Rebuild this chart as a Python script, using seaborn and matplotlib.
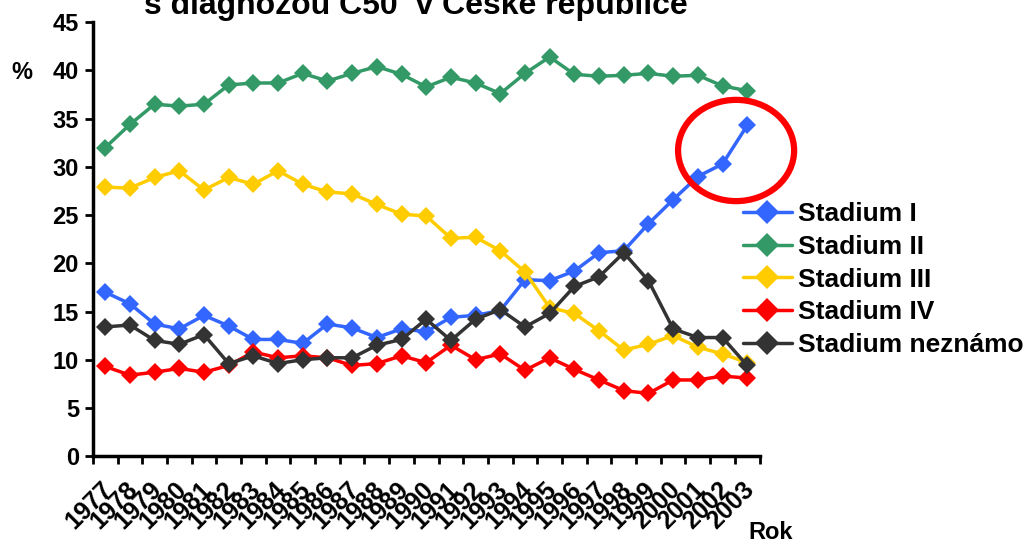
#!/usr/bin/env python3

import numpy as np
import pandas as pd

import matplotlib as mpl
mpl.use('Agg')
import matplotlib.pyplot as plt
from matplotlib.patches import Ellipse
import seaborn as sns

years = [str(y) for y in range(1977, 2004)]

stadium_1 = [17.0, 15.8, 13.7, 13.2, 14.6, 13.5, 12.1, 12.1, 11.7, 13.7, 13.3, 12.3, 13.2, 12.9,
             14.4, 14.6, 15.1, 18.3, 18.2, 19.2, 21.1, 21.3, 24.1, 26.6, 29.0, 30.3, 34.3]
stadium_2 = [32.0, 34.4, 36.5, 36.3, 36.5, 38.5, 38.7, 38.7, 39.7, 38.9, 39.7, 40.4, 39.6, 38.3,
             39.3, 38.7, 37.6, 39.7, 41.4, 39.6, 39.4, 39.5, 39.7, 39.4, 39.5, 38.4, 37.9]
stadium_3 = [27.9, 27.8, 28.9, 29.6, 27.6, 28.9, 28.2, 29.6, 28.2, 27.4, 27.2, 26.1, 25.1, 24.9,
             22.6, 22.7, 21.3, 19.1, 15.4, 14.8, 13.0, 11.0, 11.6, 12.5, 11.3, 10.6, 9.7]
stadium_4 = [9.3, 8.4, 8.7, 9.1, 8.7, 9.4, 10.8, 10.2, 10.4, 10.2, 9.4, 9.6, 10.4, 9.7,
             11.5, 10.0, 10.6, 8.9, 10.2, 9.0, 7.9, 6.8, 6.5, 7.9, 7.9, 8.3, 8.1]
stadium_x = [13.4, 13.6, 12.0, 11.6, 12.6, 9.6, 10.4, 9.6, 10.0, 10.2, 10.2, 11.5, 12.1, 14.2,
             12.0, 14.2, 15.2, 13.4, 14.8, 17.6, 18.6, 21.1, 18.2, 13.2, 12.3, 12.3, 9.4]

series_names = ['Stadium I', 'Stadium II', 'Stadium III', 'Stadium IV', 'Stadium neznámo']
series_values = [stadium_1, stadium_2, stadium_3, stadium_4, stadium_x]
series_colors = ['#3366FF', '#339966', '#FFCC00', '#FF0000', '#333333']

sns.set_style('white')
plt.rcParams['font.family'] = ['Liberation Sans', 'DejaVu Sans']
plt.rcParams['font.weight'] = 'bold'
for key in ['text.color', 'xtick.color', 'ytick.color', 'axes.labelcolor']:
    plt.rcParams[key] = 'black'

fig = plt.figure(figsize=(10.32, 5.43), dpi=100)
ax = fig.add_axes([0.090, 0.160, 0.646, 0.799])

pos = np.arange(len(years))
for name, vals, col in zip(series_names, series_values, series_colors):
    df = pd.DataFrame({'pos': pos, 'value': vals})
    sns.lineplot(data=df, x='pos', y='value', ax=ax, color=col, linewidth=2.5,
                 marker='D', markersize=9, markeredgewidth=0, label=name)

ax.set_xlim(-0.5, len(years) - 0.5)
ax.set_ylim(0, 45)
ax.set_yticks(range(0, 46, 5))
ax.set_xticks(np.arange(len(years) + 1) - 0.5, minor=False)
ax.set_xticklabels([])
# labels anchored slightly left of the category centre, like the original
ax.set_xticks(pos - 0.2, minor=True)
ax.set_xticklabels(years, minor=True, rotation=45, ha='right', va='top',
                   rotation_mode='anchor', fontsize=18, fontweight='bold')
ax.tick_params(axis='x', which='minor', length=0, pad=15)
ax.tick_params(axis='x', which='major', length=6, width=2, direction='out', bottom=True)
ax.tick_params(axis='y', length=6, width=2, direction='out', left=True, labelsize=17, pad=4)
for lab in ax.get_yticklabels():
    lab.set_fontweight('bold')
ax.set_xlabel('')
ax.set_ylabel('')
for s in ['top', 'right']:
    ax.spines[s].set_visible(False)
for s in ['left', 'bottom']:
    ax.spines[s].set_linewidth(2.5)
    ax.spines[s].set_color('black')
ax.grid(False)

# highlight of the last years
ax.add_patch(Ellipse((25.55, 31.7), 4.7, 10.5, fill=False, edgecolor='#FF0000',
                     linewidth=4.5, clip_on=False, zorder=5))

handles, labels = ax.get_legend_handles_labels()
leg = ax.legend(handles, labels, loc='center left', bbox_to_anchor=(0.720, 0.485),
                bbox_transform=fig.transFigure, frameon=False,
                prop={'weight': 'bold', 'size': 19}, handlelength=1.85,
                handletextpad=0.25, labelspacing=0.33, markerscale=1.4, borderaxespad=0,
                borderpad=0)
for t in leg.get_texts():
    t.set_color('black')

fig.text(0.403, 0.974, 's diagnózou C50  v České republice', ha='center', va='baseline',
         fontsize=23, fontweight='bold')
fig.text(0.011, 0.855, '%', fontsize=17, fontweight='bold')
fig.text(0.725, 0.008, 'Rok', fontsize=17, fontweight='bold')

fig.savefig('out.png', dpi=100)
